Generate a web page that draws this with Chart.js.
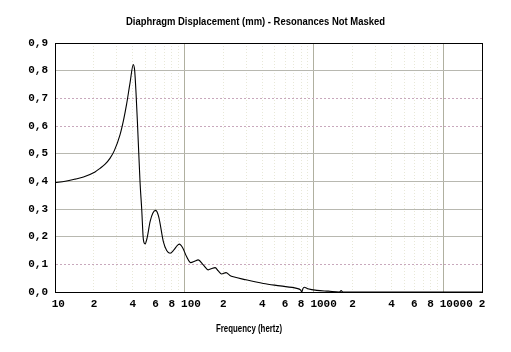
<!DOCTYPE html>
<html>
<head>
<meta charset="utf-8">
<script src="https://cdn.jsdelivr.net/npm/chart.js@4.4.1/dist/chart.umd.min.js"></script>
<style>
    html, body { margin: 0; padding: 0; background: #fff; }
    #wrap { width: 511px; height: 352px; }
</style>
</head>
<body>
<div id="wrap"><canvas id="dispChart"></canvas></div>
<script>
        // Data
        const freqHz = [10, 12, 14.3, 16.6, 20.4, 22.3, 24.4, 26.6, 28.8, 31.8, 34, 35.8, 38, 40.3,
                        41.3, 42.3, 43.4, 45.4, 46.8, 48.2, 49.7, 51.5, 54.4, 57, 60.1, 63.5, 68.8,
                        73, 77.5, 83, 88, 91.4, 97, 104, 112, 120, 128, 140, 153, 163, 173, 183,
                        194, 210, 225, 239, 300, 408, 550, 740, 790, 809, 825, 844, 900, 1057,
                        1300, 1580, 1630, 1680, 3000, 20000];
        const dispMm = [0.395, 0.400, 0.408, 0.416, 0.434, 0.447, 0.462, 0.483, 0.512, 0.568, 0.625, 0.68, 0.755, 0.822,
                        0.80, 0.72, 0.611, 0.40, 0.30, 0.19, 0.174, 0.195, 0.255, 0.285, 0.295, 0.27, 0.182,
                        0.150, 0.140, 0.152, 0.168, 0.173, 0.160, 0.128, 0.106, 0.111, 0.116, 0.098, 0.080, 0.085, 0.088, 0.076,
                        0.065, 0.070, 0.060, 0.055, 0.044, 0.031, 0.022, 0.013, 0.008, 0.0, 0.012, 0.017, 0.012, 0.006,
                        0.003, 0.0, 0.005, 0.0, 0.0, 0.0];
        const yTickValues = [0, 0.1, 0.2, 0.3, 0.4, 0.5, 0.6, 0.7, 0.8, 0.9];
        const xDecades = [10, 100, 1000, 10000];
        const xSteps = [1, 2, 3, 4, 5, 6, 7, 8, 9];
        const xLabelSteps = [1, 2, 4, 6, 8];
        const dottedRows = [1, 6, 7];   // tenths drawn as dotted rows

        const chartTitle = 'Diaphragm Displacement (mm) - Resonances Not Masked';
        const xAxisTitle = 'Frequency (hertz)';

        const tickFont = { family: '"Liberation Mono", monospace', size: 11, weight: 'bold' };

        // tick value -> which step of its decade
        function stepOf(v) {
            const d = xDecades.filter(t => t <= v + 1e-6).pop();
            return Math.round(v / d);
        }

        function drawFitted(ctx, text, cx, cy, w) {
            const m = ctx.measureText(text).width;
            ctx.save();
            ctx.translate(cx, cy);
            ctx.scale(w / m, 1);
            ctx.fillText(text, 0, 0);
            ctx.restore();
        }

        // box around the plot + titles
        const framePlugin = {
            id: 'frame',
            afterDraw(chart) {
                const { ctx, chartArea: a } = chart;
                ctx.save();
                ctx.strokeStyle = '#000';
                ctx.lineWidth = 1;
                ctx.strokeRect(Math.round(a.left) + 0.5, Math.round(a.top) + 0.5,
                               Math.round(a.right - a.left), Math.round(a.bottom - a.top));
                ctx.fillStyle = '#000';
                ctx.textAlign = 'center';
                ctx.textBaseline = 'middle';
                ctx.font = 'bold 10px "Liberation Sans", Arial, sans-serif';
                drawFitted(ctx, chartTitle, 255.5, 22.5, 259);
                drawFitted(ctx, xAxisTitle, 249, 329.5, 66);
                ctx.restore();
            }
        };

        const ctx = document.getElementById('dispChart').getContext('2d');
        const dispChart = new Chart(ctx, {
            type: 'line',
            data: {
                datasets: [{
                    data: freqHz.map((f, i) => ({ x: f, y: dispMm[i] })),
                    borderColor: '#000',
                    borderWidth: 1.1,
                    pointRadius: 0,
                    fill: false,
                    cubicInterpolationMode: 'monotone'
                }]
            },
            options: {
                responsive: true,
                maintainAspectRatio: false,
                animation: false,
                layout: { padding: { top: 43, right: 29, left: 0, bottom: 0 } },
                plugins: {
                    legend: { display: false },
                    tooltip: { enabled: false }
                },
                scales: {
                    x: {
                        type: 'logarithmic',
                        min: 10,
                        max: 20000,
                        afterFit: (scale) => { scale.height = 60; },
                        afterBuildTicks: (scale) => {
                            const vals = [];
                            xDecades.forEach(d => xSteps.forEach(s => {
                                if (d * s <= 20000) vals.push(d * s);
                            }));
                            scale.ticks = vals.map(v => ({ value: v }));
                        },
                        border: {
                            color: '#000',
                            dash: (c) => {
                                if (!c.tick) return [];
                                return stepOf(c.tick.value) === 1 ? [] : [1, 2];
                            }
                        },
                        grid: {
                            drawTicks: false,
                            color: (c) => {
                                if (!c.tick) return '#a8a898';
                                return stepOf(c.tick.value) === 1 ? '#b0b0a0' : '#e8e8d8';
                            }
                        },
                        ticks: {
                            autoSkip: false,
                            maxRotation: 0,
                            padding: 6,
                            color: '#000',
                            font: tickFont,
                            callback: (v) => {
                                const s = stepOf(v);
                                if (!xLabelSteps.includes(s)) return '';
                                if (s !== 1) return String(s);
                                const txt = String(Math.round(v));
                                return ' '.repeat(txt.length - 1) + txt;
                            }
                        }
                    },
                    y: {
                        min: 0,
                        max: 0.9,
                        afterFit: (scale) => { scale.width = 55; },
                        afterBuildTicks: (scale) => {
                            scale.ticks = yTickValues.map(v => ({ value: v }));
                        },
                        border: {
                            color: '#000',
                            dash: (c) => {
                                if (!c.tick) return [];
                                return dottedRows.includes(Math.round(c.tick.value * 10)) ? [2, 2] : [];
                            }
                        },
                        grid: {
                            drawTicks: false,
                            color: (c) => {
                                if (!c.tick) return '#000';
                                return dottedRows.includes(Math.round(c.tick.value * 10)) ? '#c8a8bc' : '#b8b8b0';
                            }
                        },
                        ticks: {
                            padding: 7,
                            color: '#000',
                            font: tickFont,
                            callback: (v) => v.toFixed(1).replace('.', ',')
                        }
                    }
                }
            },
            plugins: [framePlugin]
        });
</script>
</body>
</html>
